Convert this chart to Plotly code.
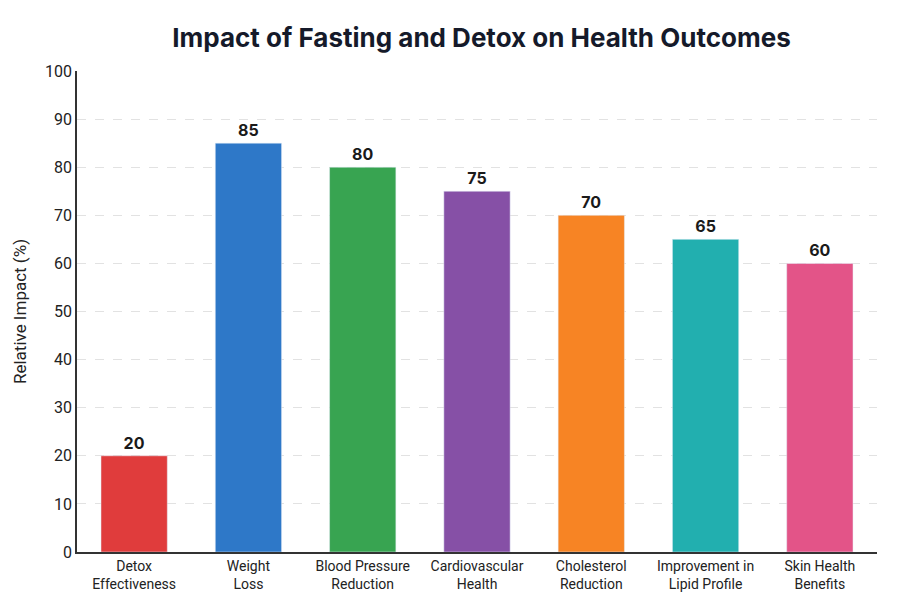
import plotly.graph_objects as go

categories = ["Detox<br>Effectiveness", "Weight<br>Loss", "Blood Pressure<br>Reduction",
              "Cardiovascular<br>Health", "Cholesterol<br>Reduction",
              "Improvement in<br>Lipid Profile", "Skin Health<br>Benefits"]
values = [20, 85, 80, 75, 70, 65, 60]
colors = ["#E03C3C", "#2E78C8", "#38A451", "#8650A6", "#F78424", "#22AFAF", "#E35488"]

fig = go.Figure(go.Bar(
    x=categories, y=values, marker_color=colors, width=0.58,
    text=[str(v) for v in values], textposition="outside",
    textfont=dict(family="Inter, Roboto, sans-serif", size=16, color="#1a1a1a", weight="bold"),
    cliponaxis=False,
))

fig.update_layout(
    width=900, height=600,
    paper_bgcolor="white", plot_bgcolor="white",
    margin=dict(l=77, r=23, t=71, b=48),
    title=dict(text="<b>Impact of Fasting and Detox on Health Outcomes</b>",
               x=0.535, xanchor="center", y=0.937, yanchor="middle",
               font=dict(family="Inter, Roboto, sans-serif", size=26, color="#151a2a")),
    showlegend=False,
    font=dict(family="Roboto, sans-serif", color="#222"),
)
fig.update_yaxes(range=[0, 100], dtick=10, showgrid=True, gridcolor="#e2e2e2",
                 griddash="dash", gridwidth=1, showline=True, linecolor="#333",
                 linewidth=1.5, ticks="", tickfont=dict(size=16, color="#222"),
                 title=dict(text="Relative Impact (%)", font=dict(size=17, color="#222"), standoff=14),
                 zeroline=False)
fig.update_xaxes(showline=True, linecolor="#333", linewidth=1.5, ticks="", automargin=False,
                 tickfont=dict(size=14, color="#222", family="Roboto, sans-serif"))

fig.write_html("out.html")
